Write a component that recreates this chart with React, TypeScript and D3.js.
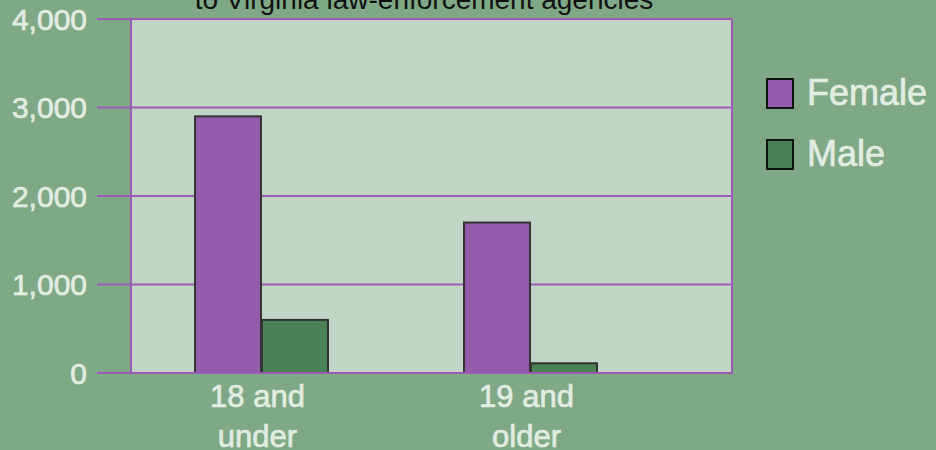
import React from 'react';
import * as d3 from 'd3';

const categories = ['18 and under', '19 and older'];
const categoryLines = [
    ['18 and', 'under'],
    ['19 and', 'older'],
];
const seriesNames = ['Female', 'Male'];
const femaleValues = [2900, 1700];
const maleValues = [600, 110];
const yTicks = [0, 1000, 2000, 3000, 4000];
const title = 'to Virginia law-enforcement agencies';

const W = 936;
const H = 450;
const plot = { left: 131, right: 732, top: 19, bottom: 373 };
const colors = { Female: '#925bab', Male: '#4a8156' };
const font = '"Liberation Sans", Arial, sans-serif';
const light = '#e2ece2';
const heavy = { stroke: light, strokeWidth: 0.7 };

function App() {
    const y = d3.scaleLinear().domain([0, 4000]).range([plot.bottom, plot.top]);
    const x = d3.scaleBand().domain(categories).range([127, 665]).padding(0);
    const half = 66.5;
    const xSub = d3.scaleBand().domain(seriesNames).range([-half, half]).paddingInner(0.015);
    const values = { Female: femaleValues, Male: maleValues };
    const fmt = d3.format(',');

    return (
        <div style={{ position: 'fixed', left: 0, top: 0, width: W, height: H }}>
            <svg width={W} height={H} style={{ display: 'block', fontFamily: font }}>
                <rect x={0} y={0} width={W} height={H} fill="#7fa887" />
                <rect
                    x={plot.left}
                    y={plot.top}
                    width={plot.right - plot.left}
                    height={plot.bottom - plot.top}
                    fill="#c1d5c7"
                />
                {yTicks.map((t) => (
                    <g key={t}>
                        <line x1={97} x2={plot.right} y1={y(t)} y2={y(t)} stroke="#9a5cb5" strokeWidth={2} />
                        <text
                            x={87}
                            y={y(t)}
                            dy="0.36em"
                            textAnchor="end"
                            fontSize={30}
                            fill={light}
                            {...heavy}
                        >
                            {fmt(t)}
                        </text>
                    </g>
                ))}
                <line x1={plot.left} x2={plot.left} y1={plot.top} y2={plot.bottom} stroke="#9a5cb5" strokeWidth={2} />
                <line x1={plot.right} x2={plot.right} y1={plot.top} y2={plot.bottom + 1} stroke="#9a5cb5" strokeWidth={2} />
                {categories.map((c, i) => {
                    const cx = x(c)! + x.bandwidth() / 2;
                    return (
                        <g key={c}>
                            {seriesNames.map((s) => {
                                const v = values[s as 'Female' | 'Male'][i];
                                return (
                                    <rect
                                        key={s}
                                        x={cx + xSub(s)!}
                                        y={y(v)}
                                        width={xSub.bandwidth()}
                                        height={y(0) - y(v)}
                                        fill={colors[s as 'Female' | 'Male']}
                                        stroke="#333"
                                        strokeWidth={2}
                                    />
                                );
                            })}
                            {categoryLines[i].map((ln, j) => (
                                <text
                                    key={ln}
                                    x={cx - 4}
                                    y={407 + j * 40}
                                    textAnchor="middle"
                                    fontSize={31}
                                    fill={light}
                                    {...heavy}
                                >
                                    {ln}
                                </text>
                            ))}
                        </g>
                    );
                })}
                <line x1={97} x2={plot.right + 1} y1={y(0)} y2={y(0)} stroke="#9a5cb5" strokeWidth={2} />
                <text x={424} y={9} textAnchor="middle" fontSize={28} fill="#111">
                    {title}
                </text>
                {seriesNames.map((s, i) => (
                    <g key={s} transform={`translate(767, ${79 + i * 61})`}>
                        <rect width={26} height={29} fill={colors[s as 'Female' | 'Male']} stroke="#111" strokeWidth={2} />
                        <text x={40} y={26} fontSize={36} fill={light} {...heavy}>
                            {s}
                        </text>
                    </g>
                ))}
            </svg>
        </div>
    );
}

export default App;
